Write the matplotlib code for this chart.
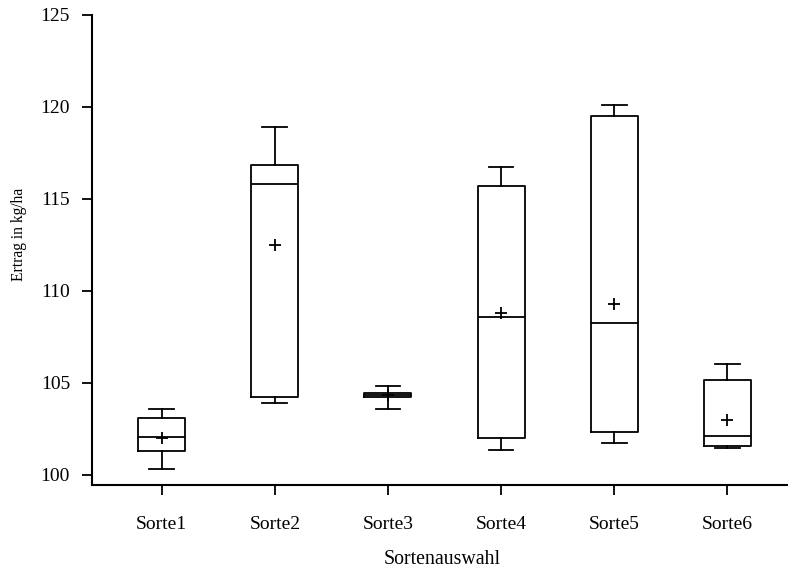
import matplotlib
matplotlib.use("Agg")
import matplotlib.pyplot as plt

plt.rcParams['font.family'] = ['Liberation Serif', 'DejaVu Serif']

categories = ["Sorte1", "Sorte2", "Sorte3", "Sorte4", "Sorte5", "Sorte6"]
whisker_low = [100.31, 103.91, 103.57, 101.36, 101.71, 101.43]
q1 = [101.27, 104.22, 104.21, 101.99, 102.34, 101.54]
median = [102.07, 115.78, 104.35, 108.57, 108.26, 102.12]
q3 = [103.10, 116.82, 104.42, 115.71, 119.48, 105.15]
whisker_high = [103.57, 118.88, 104.84, 116.72, 120.09, 106.00]
mean = [101.98, 112.48, 104.35, 108.80, 109.29, 102.97]
yticks = [100, 105, 110, 115, 120, 125]

stats = []
for c, lo, a, m, b, hi, mu in zip(categories, whisker_low, q1, median, q3, whisker_high, mean):
    stats.append(dict(label=c, whislo=lo, q1=a, med=m, q3=b, whishi=hi, mean=mu, fliers=[]))

fig = plt.figure(figsize=(7.88, 5.70), dpi=100)
ax = fig.add_axes([92.3 / 788, 1 - 485 / 570, 1 - 92.3 / 788, (485 - 14.7) / 570])

lw = 1.3
positions = list(range(1, len(categories) + 1))
ax.bxp(stats, positions=positions, widths=0.415, capwidths=0.22, showmeans=True,
       showfliers=False,
       boxprops=dict(color='black', linewidth=lw),
       medianprops=dict(color='black', linewidth=lw),
       whiskerprops=dict(color='black', linewidth=lw),
       capprops=dict(color='black', linewidth=lw),
       meanprops=dict(marker='+', markersize=9, markeredgecolor='black',
                      markeredgewidth=1.3, markerfacecolor='black'))

ax.set_xlim(0.386, 6.537)
ax.set_ylim(99.44, 125)
ax.set_yticks(yticks)
ax.set_yticklabels([str(t) for t in yticks])
ax.set_xticks(positions)
ax.set_xticklabels(categories)

ax.spines['top'].set_visible(False)
ax.spines['right'].set_visible(False)
ax.spines['left'].set_linewidth(1.5)
ax.spines['bottom'].set_linewidth(1.5)
ax.spines['left'].set_bounds(99.44, 125)

ax.tick_params(axis='y', direction='out', length=7, width=1.3, pad=9, labelsize=14)
ax.tick_params(axis='x', direction='out', length=7, width=1.3, pad=15, labelsize=14)

fig.text(19 / 788, 1 - 234 / 570, "Ertrag in kg/ha", rotation=90, ha='center', va='center', fontsize=11.2)
fig.text(442 / 788, 1 - 559 / 570, "Sortenauswahl", ha='center', va='center', fontsize=14.3)

fig.savefig("out.png", dpi=100)
